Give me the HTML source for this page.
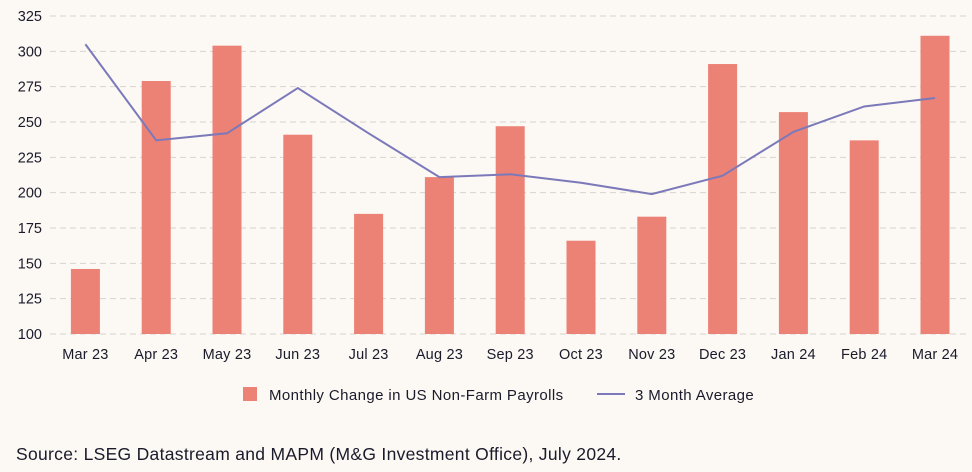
<!DOCTYPE html>
<html><head><meta charset="utf-8"><style>
body{margin:0;background:#fcf8f4;font-family:"Liberation Sans",sans-serif;}
svg{display:block}
</style></head><body>
<svg id="chart" width="972" height="472">
<rect width="972" height="472" fill="#fcf8f4"/>
<g id="grid"></g><g id="bars"></g><g id="line"></g><g id="xlab"></g>
<g>
<rect x="243" y="387" width="14" height="14" fill="#ec8175"/>
<text x="269" y="400" font-size="15" letter-spacing="0.4" fill="#1a1a2a">Monthly Change in US Non-Farm Payrolls</text>
<line x1="597" y1="394" x2="625" y2="394" stroke="#7b79ba" stroke-width="2"/>
<text x="635" y="400" font-size="15" letter-spacing="0.4" fill="#1a1a2a">3 Month Average</text>
</g>
<text x="16" y="460" font-size="17.5" letter-spacing="0.3" fill="#1a1a2a">Source: LSEG Datastream and MAPM (M&amp;G Investment Office), July 2024.</text>
</svg>
<script>
const categories=["Mar 23","Apr 23","May 23","Jun 23","Jul 23","Aug 23","Sep 23","Oct 23","Nov 23","Dec 23","Jan 24","Feb 24","Mar 24"];
const payrolls=[146,279,304,241,185,211,247,166,183,291,257,237,311];
const avg3m=[305,237,242,274,242,211,213,207,199,212,243,261,267];
const yTicks=[100,125,150,175,200,225,250,275,300,325];
const NS="http://www.w3.org/2000/svg";
const x0=50,band=70.8,bw=29;
const y=v=>334-(v-100)*(318/225);
const xc=i=>x0+band*(i+0.5);
function mk(t,a,p){const e=document.createElementNS(NS,t);for(const k in a)e.setAttribute(k,a[k]);p.appendChild(e);return e;}
const g=document.getElementById('grid');
yTicks.forEach(t=>{
 const l=mk('line',{x1:50,x2:970,y1:y(t),y2:y(t),stroke:'#d6d2ce','stroke-dasharray':'6,4','stroke-width':1},g);
 
 
 const tx=mk('text',{x:42,y:y(t)+5,'text-anchor':'end','font-size':14.5,fill:'#1a1a2a'},g);
 tx.textContent=t;
 
 
});
const b=document.getElementById('bars'),xl=document.getElementById('xlab');
categories.forEach((c,i)=>{
 const r=mk('rect',{x:xc(i)-bw/2,y:y(payrolls[i]),width:bw,height:334-y(payrolls[i]),fill:'#ec8175'},b);
 
 
 const t=mk('text',{x:xc(i),y:359,'text-anchor':'middle','font-size':14.5,'letter-spacing':0.2,fill:'#1a1a2a'},xl);
 t.textContent=c;
 
 
});
const p=mk('polyline',{points:avg3m.map((v,i)=>xc(i)+','+y(v)).join(' '),fill:'none',stroke:'#7b79ba','stroke-width':2},document.getElementById('line'));


</script>
</body></html>
